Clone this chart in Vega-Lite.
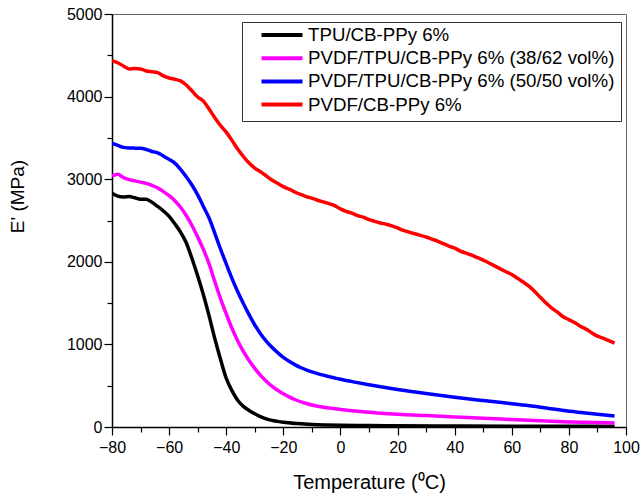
{
  "$schema": "https://vega.github.io/schema/vega-lite/v6.json",
  "autosize": "none",
  "width": 514,
  "height": 413,
  "padding": {"left": 112, "top": 14, "right": 17, "bottom": 72},
  "background": "white",
  "config": {
    "font": "Liberation Sans",
    "view": {"stroke": "#666666", "strokeWidth": 1}
  },
  "data": {
    "values": [
      {"s": "TPU/CB-PPy 6%", "T": -80, "E": 2829}, {"s": "TPU/CB-PPy 6%", "T": -78, "E": 2795}, {"s": "TPU/CB-PPy 6%", "T": -76, "E": 2785}, {"s": "TPU/CB-PPy 6%", "T": -74, "E": 2790}, {"s": "TPU/CB-PPy 6%", "T": -72, "E": 2775}, {"s": "TPU/CB-PPy 6%", "T": -70, "E": 2758}, {"s": "TPU/CB-PPy 6%", "T": -68, "E": 2756}, {"s": "TPU/CB-PPy 6%", "T": -66, "E": 2720}, {"s": "TPU/CB-PPy 6%", "T": -64, "E": 2670}, {"s": "TPU/CB-PPy 6%", "T": -62, "E": 2615}, {"s": "TPU/CB-PPy 6%", "T": -60, "E": 2550}, {"s": "TPU/CB-PPy 6%", "T": -58, "E": 2460}, {"s": "TPU/CB-PPy 6%", "T": -56, "E": 2360}, {"s": "TPU/CB-PPy 6%", "T": -54, "E": 2230}, {"s": "TPU/CB-PPy 6%", "T": -52, "E": 2040}, {"s": "TPU/CB-PPy 6%", "T": -50, "E": 1830}, {"s": "TPU/CB-PPy 6%", "T": -48, "E": 1600}, {"s": "TPU/CB-PPy 6%", "T": -46, "E": 1345}, {"s": "TPU/CB-PPy 6%", "T": -44, "E": 1070}, {"s": "TPU/CB-PPy 6%", "T": -42, "E": 820}, {"s": "TPU/CB-PPy 6%", "T": -40, "E": 590}, {"s": "TPU/CB-PPy 6%", "T": -38, "E": 440}, {"s": "TPU/CB-PPy 6%", "T": -36, "E": 325}, {"s": "TPU/CB-PPy 6%", "T": -34, "E": 250}, {"s": "TPU/CB-PPy 6%", "T": -32, "E": 200}, {"s": "TPU/CB-PPy 6%", "T": -30, "E": 160}, {"s": "TPU/CB-PPy 6%", "T": -28, "E": 125}, {"s": "TPU/CB-PPy 6%", "T": -26, "E": 98}, {"s": "TPU/CB-PPy 6%", "T": -24, "E": 80}, {"s": "TPU/CB-PPy 6%", "T": -22, "E": 68}, {"s": "TPU/CB-PPy 6%", "T": -20, "E": 58}, {"s": "TPU/CB-PPy 6%", "T": -15, "E": 42}, {"s": "TPU/CB-PPy 6%", "T": -10, "E": 31}, {"s": "TPU/CB-PPy 6%", "T": -5, "E": 25}, {"s": "TPU/CB-PPy 6%", "T": 0, "E": 21}, {"s": "TPU/CB-PPy 6%", "T": 10, "E": 17}, {"s": "TPU/CB-PPy 6%", "T": 20, "E": 14}, {"s": "TPU/CB-PPy 6%", "T": 40, "E": 12}, {"s": "TPU/CB-PPy 6%", "T": 60, "E": 10}, {"s": "TPU/CB-PPy 6%", "T": 80, "E": 9}, {"s": "TPU/CB-PPy 6%", "T": 96, "E": 8},

      {"s": "PVDF/TPU/CB-PPy 6% (38/62 vol%)", "T": -80, "E": 3040}, {"s": "PVDF/TPU/CB-PPy 6% (38/62 vol%)", "T": -78, "E": 3060}, {"s": "PVDF/TPU/CB-PPy 6% (38/62 vol%)", "T": -76, "E": 3020}, {"s": "PVDF/TPU/CB-PPy 6% (38/62 vol%)", "T": -74, "E": 2995}, {"s": "PVDF/TPU/CB-PPy 6% (38/62 vol%)", "T": -72, "E": 2980}, {"s": "PVDF/TPU/CB-PPy 6% (38/62 vol%)", "T": -70, "E": 2965}, {"s": "PVDF/TPU/CB-PPy 6% (38/62 vol%)", "T": -68, "E": 2950}, {"s": "PVDF/TPU/CB-PPy 6% (38/62 vol%)", "T": -66, "E": 2925}, {"s": "PVDF/TPU/CB-PPy 6% (38/62 vol%)", "T": -64, "E": 2895}, {"s": "PVDF/TPU/CB-PPy 6% (38/62 vol%)", "T": -62, "E": 2850}, {"s": "PVDF/TPU/CB-PPy 6% (38/62 vol%)", "T": -60, "E": 2800}, {"s": "PVDF/TPU/CB-PPy 6% (38/62 vol%)", "T": -58, "E": 2740}, {"s": "PVDF/TPU/CB-PPy 6% (38/62 vol%)", "T": -56, "E": 2660}, {"s": "PVDF/TPU/CB-PPy 6% (38/62 vol%)", "T": -54, "E": 2560}, {"s": "PVDF/TPU/CB-PPy 6% (38/62 vol%)", "T": -52, "E": 2440}, {"s": "PVDF/TPU/CB-PPy 6% (38/62 vol%)", "T": -50, "E": 2300}, {"s": "PVDF/TPU/CB-PPy 6% (38/62 vol%)", "T": -48, "E": 2150}, {"s": "PVDF/TPU/CB-PPy 6% (38/62 vol%)", "T": -46, "E": 1975}, {"s": "PVDF/TPU/CB-PPy 6% (38/62 vol%)", "T": -44, "E": 1760}, {"s": "PVDF/TPU/CB-PPy 6% (38/62 vol%)", "T": -42, "E": 1555}, {"s": "PVDF/TPU/CB-PPy 6% (38/62 vol%)", "T": -40, "E": 1370}, {"s": "PVDF/TPU/CB-PPy 6% (38/62 vol%)", "T": -38, "E": 1195}, {"s": "PVDF/TPU/CB-PPy 6% (38/62 vol%)", "T": -36, "E": 1045}, {"s": "PVDF/TPU/CB-PPy 6% (38/62 vol%)", "T": -34, "E": 915}, {"s": "PVDF/TPU/CB-PPy 6% (38/62 vol%)", "T": -32, "E": 805}, {"s": "PVDF/TPU/CB-PPy 6% (38/62 vol%)", "T": -30, "E": 710}, {"s": "PVDF/TPU/CB-PPy 6% (38/62 vol%)", "T": -28, "E": 625}, {"s": "PVDF/TPU/CB-PPy 6% (38/62 vol%)", "T": -26, "E": 555}, {"s": "PVDF/TPU/CB-PPy 6% (38/62 vol%)", "T": -24, "E": 495}, {"s": "PVDF/TPU/CB-PPy 6% (38/62 vol%)", "T": -22, "E": 445}, {"s": "PVDF/TPU/CB-PPy 6% (38/62 vol%)", "T": -20, "E": 402}, {"s": "PVDF/TPU/CB-PPy 6% (38/62 vol%)", "T": -18, "E": 365}, {"s": "PVDF/TPU/CB-PPy 6% (38/62 vol%)", "T": -16, "E": 333}, {"s": "PVDF/TPU/CB-PPy 6% (38/62 vol%)", "T": -12, "E": 285}, {"s": "PVDF/TPU/CB-PPy 6% (38/62 vol%)", "T": -8, "E": 252}, {"s": "PVDF/TPU/CB-PPy 6% (38/62 vol%)", "T": -4, "E": 230}, {"s": "PVDF/TPU/CB-PPy 6% (38/62 vol%)", "T": 0, "E": 213}, {"s": "PVDF/TPU/CB-PPy 6% (38/62 vol%)", "T": 5, "E": 195}, {"s": "PVDF/TPU/CB-PPy 6% (38/62 vol%)", "T": 10, "E": 180}, {"s": "PVDF/TPU/CB-PPy 6% (38/62 vol%)", "T": 20, "E": 155}, {"s": "PVDF/TPU/CB-PPy 6% (38/62 vol%)", "T": 30, "E": 138}, {"s": "PVDF/TPU/CB-PPy 6% (38/62 vol%)", "T": 40, "E": 122}, {"s": "PVDF/TPU/CB-PPy 6% (38/62 vol%)", "T": 50, "E": 105}, {"s": "PVDF/TPU/CB-PPy 6% (38/62 vol%)", "T": 60, "E": 90}, {"s": "PVDF/TPU/CB-PPy 6% (38/62 vol%)", "T": 70, "E": 75}, {"s": "PVDF/TPU/CB-PPy 6% (38/62 vol%)", "T": 80, "E": 62}, {"s": "PVDF/TPU/CB-PPy 6% (38/62 vol%)", "T": 90, "E": 53}, {"s": "PVDF/TPU/CB-PPy 6% (38/62 vol%)", "T": 96, "E": 48},

      {"s": "PVDF/TPU/CB-PPy 6% (50/50 vol%)", "T": -80, "E": 3436}, {"s": "PVDF/TPU/CB-PPy 6% (50/50 vol%)", "T": -78, "E": 3410}, {"s": "PVDF/TPU/CB-PPy 6% (50/50 vol%)", "T": -76, "E": 3385}, {"s": "PVDF/TPU/CB-PPy 6% (50/50 vol%)", "T": -74, "E": 3378}, {"s": "PVDF/TPU/CB-PPy 6% (50/50 vol%)", "T": -72, "E": 3376}, {"s": "PVDF/TPU/CB-PPy 6% (50/50 vol%)", "T": -70, "E": 3375}, {"s": "PVDF/TPU/CB-PPy 6% (50/50 vol%)", "T": -68, "E": 3360}, {"s": "PVDF/TPU/CB-PPy 6% (50/50 vol%)", "T": -66, "E": 3335}, {"s": "PVDF/TPU/CB-PPy 6% (50/50 vol%)", "T": -64, "E": 3320}, {"s": "PVDF/TPU/CB-PPy 6% (50/50 vol%)", "T": -62, "E": 3280}, {"s": "PVDF/TPU/CB-PPy 6% (50/50 vol%)", "T": -60, "E": 3240}, {"s": "PVDF/TPU/CB-PPy 6% (50/50 vol%)", "T": -58, "E": 3195}, {"s": "PVDF/TPU/CB-PPy 6% (50/50 vol%)", "T": -56, "E": 3120}, {"s": "PVDF/TPU/CB-PPy 6% (50/50 vol%)", "T": -54, "E": 3030}, {"s": "PVDF/TPU/CB-PPy 6% (50/50 vol%)", "T": -52, "E": 2930}, {"s": "PVDF/TPU/CB-PPy 6% (50/50 vol%)", "T": -50, "E": 2810}, {"s": "PVDF/TPU/CB-PPy 6% (50/50 vol%)", "T": -48, "E": 2670}, {"s": "PVDF/TPU/CB-PPy 6% (50/50 vol%)", "T": -46, "E": 2530}, {"s": "PVDF/TPU/CB-PPy 6% (50/50 vol%)", "T": -44, "E": 2345}, {"s": "PVDF/TPU/CB-PPy 6% (50/50 vol%)", "T": -42, "E": 2155}, {"s": "PVDF/TPU/CB-PPy 6% (50/50 vol%)", "T": -40, "E": 1975}, {"s": "PVDF/TPU/CB-PPy 6% (50/50 vol%)", "T": -38, "E": 1800}, {"s": "PVDF/TPU/CB-PPy 6% (50/50 vol%)", "T": -36, "E": 1640}, {"s": "PVDF/TPU/CB-PPy 6% (50/50 vol%)", "T": -34, "E": 1495}, {"s": "PVDF/TPU/CB-PPy 6% (50/50 vol%)", "T": -32, "E": 1360}, {"s": "PVDF/TPU/CB-PPy 6% (50/50 vol%)", "T": -30, "E": 1235}, {"s": "PVDF/TPU/CB-PPy 6% (50/50 vol%)", "T": -28, "E": 1130}, {"s": "PVDF/TPU/CB-PPy 6% (50/50 vol%)", "T": -26, "E": 1040}, {"s": "PVDF/TPU/CB-PPy 6% (50/50 vol%)", "T": -24, "E": 965}, {"s": "PVDF/TPU/CB-PPy 6% (50/50 vol%)", "T": -22, "E": 900}, {"s": "PVDF/TPU/CB-PPy 6% (50/50 vol%)", "T": -20, "E": 842}, {"s": "PVDF/TPU/CB-PPy 6% (50/50 vol%)", "T": -18, "E": 795}, {"s": "PVDF/TPU/CB-PPy 6% (50/50 vol%)", "T": -16, "E": 755}, {"s": "PVDF/TPU/CB-PPy 6% (50/50 vol%)", "T": -14, "E": 720}, {"s": "PVDF/TPU/CB-PPy 6% (50/50 vol%)", "T": -12, "E": 692}, {"s": "PVDF/TPU/CB-PPy 6% (50/50 vol%)", "T": -10, "E": 668}, {"s": "PVDF/TPU/CB-PPy 6% (50/50 vol%)", "T": -8, "E": 647}, {"s": "PVDF/TPU/CB-PPy 6% (50/50 vol%)", "T": -6, "E": 628}, {"s": "PVDF/TPU/CB-PPy 6% (50/50 vol%)", "T": -4, "E": 610}, {"s": "PVDF/TPU/CB-PPy 6% (50/50 vol%)", "T": -2, "E": 594}, {"s": "PVDF/TPU/CB-PPy 6% (50/50 vol%)", "T": 0, "E": 578}, {"s": "PVDF/TPU/CB-PPy 6% (50/50 vol%)", "T": 5, "E": 543}, {"s": "PVDF/TPU/CB-PPy 6% (50/50 vol%)", "T": 10, "E": 511}, {"s": "PVDF/TPU/CB-PPy 6% (50/50 vol%)", "T": 20, "E": 454}, {"s": "PVDF/TPU/CB-PPy 6% (50/50 vol%)", "T": 30, "E": 405}, {"s": "PVDF/TPU/CB-PPy 6% (50/50 vol%)", "T": 40, "E": 360}, {"s": "PVDF/TPU/CB-PPy 6% (50/50 vol%)", "T": 50, "E": 320}, {"s": "PVDF/TPU/CB-PPy 6% (50/50 vol%)", "T": 60, "E": 282}, {"s": "PVDF/TPU/CB-PPy 6% (50/50 vol%)", "T": 67, "E": 255}, {"s": "PVDF/TPU/CB-PPy 6% (50/50 vol%)", "T": 73, "E": 225}, {"s": "PVDF/TPU/CB-PPy 6% (50/50 vol%)", "T": 79, "E": 196}, {"s": "PVDF/TPU/CB-PPy 6% (50/50 vol%)", "T": 85, "E": 172}, {"s": "PVDF/TPU/CB-PPy 6% (50/50 vol%)", "T": 90, "E": 154}, {"s": "PVDF/TPU/CB-PPy 6% (50/50 vol%)", "T": 96, "E": 134},

      {"s": "PVDF/CB-PPy 6%", "T": -80, "E": 4435}, {"s": "PVDF/CB-PPy 6%", "T": -78, "E": 4410}, {"s": "PVDF/CB-PPy 6%", "T": -76, "E": 4370}, {"s": "PVDF/CB-PPy 6%", "T": -74, "E": 4335}, {"s": "PVDF/CB-PPy 6%", "T": -72, "E": 4340}, {"s": "PVDF/CB-PPy 6%", "T": -70, "E": 4335}, {"s": "PVDF/CB-PPy 6%", "T": -68, "E": 4310}, {"s": "PVDF/CB-PPy 6%", "T": -66, "E": 4300}, {"s": "PVDF/CB-PPy 6%", "T": -64, "E": 4290}, {"s": "PVDF/CB-PPy 6%", "T": -62, "E": 4250}, {"s": "PVDF/CB-PPy 6%", "T": -60, "E": 4225}, {"s": "PVDF/CB-PPy 6%", "T": -58, "E": 4210}, {"s": "PVDF/CB-PPy 6%", "T": -56, "E": 4190}, {"s": "PVDF/CB-PPy 6%", "T": -54, "E": 4140}, {"s": "PVDF/CB-PPy 6%", "T": -52, "E": 4070}, {"s": "PVDF/CB-PPy 6%", "T": -50, "E": 3995}, {"s": "PVDF/CB-PPy 6%", "T": -48, "E": 3945}, {"s": "PVDF/CB-PPy 6%", "T": -46, "E": 3850}, {"s": "PVDF/CB-PPy 6%", "T": -44, "E": 3745}, {"s": "PVDF/CB-PPy 6%", "T": -42, "E": 3650}, {"s": "PVDF/CB-PPy 6%", "T": -40, "E": 3570}, {"s": "PVDF/CB-PPy 6%", "T": -38, "E": 3470}, {"s": "PVDF/CB-PPy 6%", "T": -36, "E": 3365}, {"s": "PVDF/CB-PPy 6%", "T": -34, "E": 3275}, {"s": "PVDF/CB-PPy 6%", "T": -32, "E": 3195}, {"s": "PVDF/CB-PPy 6%", "T": -30, "E": 3135}, {"s": "PVDF/CB-PPy 6%", "T": -28, "E": 3090}, {"s": "PVDF/CB-PPy 6%", "T": -26, "E": 3040}, {"s": "PVDF/CB-PPy 6%", "T": -24, "E": 2990}, {"s": "PVDF/CB-PPy 6%", "T": -22, "E": 2950}, {"s": "PVDF/CB-PPy 6%", "T": -20, "E": 2910}, {"s": "PVDF/CB-PPy 6%", "T": -18, "E": 2880}, {"s": "PVDF/CB-PPy 6%", "T": -16, "E": 2845}, {"s": "PVDF/CB-PPy 6%", "T": -14, "E": 2815}, {"s": "PVDF/CB-PPy 6%", "T": -12, "E": 2790}, {"s": "PVDF/CB-PPy 6%", "T": -10, "E": 2770}, {"s": "PVDF/CB-PPy 6%", "T": -8, "E": 2745}, {"s": "PVDF/CB-PPy 6%", "T": -6, "E": 2725}, {"s": "PVDF/CB-PPy 6%", "T": -4, "E": 2705}, {"s": "PVDF/CB-PPy 6%", "T": -2, "E": 2680}, {"s": "PVDF/CB-PPy 6%", "T": 0, "E": 2640}, {"s": "PVDF/CB-PPy 6%", "T": 2, "E": 2610}, {"s": "PVDF/CB-PPy 6%", "T": 4, "E": 2590}, {"s": "PVDF/CB-PPy 6%", "T": 6, "E": 2560}, {"s": "PVDF/CB-PPy 6%", "T": 8, "E": 2540}, {"s": "PVDF/CB-PPy 6%", "T": 10, "E": 2510}, {"s": "PVDF/CB-PPy 6%", "T": 12, "E": 2490}, {"s": "PVDF/CB-PPy 6%", "T": 14, "E": 2470}, {"s": "PVDF/CB-PPy 6%", "T": 16, "E": 2455}, {"s": "PVDF/CB-PPy 6%", "T": 18, "E": 2435}, {"s": "PVDF/CB-PPy 6%", "T": 20, "E": 2410}, {"s": "PVDF/CB-PPy 6%", "T": 22, "E": 2380}, {"s": "PVDF/CB-PPy 6%", "T": 24, "E": 2360}, {"s": "PVDF/CB-PPy 6%", "T": 26, "E": 2340}, {"s": "PVDF/CB-PPy 6%", "T": 28, "E": 2320}, {"s": "PVDF/CB-PPy 6%", "T": 30, "E": 2300}, {"s": "PVDF/CB-PPy 6%", "T": 32, "E": 2275}, {"s": "PVDF/CB-PPy 6%", "T": 34, "E": 2250}, {"s": "PVDF/CB-PPy 6%", "T": 36, "E": 2220}, {"s": "PVDF/CB-PPy 6%", "T": 38, "E": 2190}, {"s": "PVDF/CB-PPy 6%", "T": 40, "E": 2165}, {"s": "PVDF/CB-PPy 6%", "T": 42, "E": 2130}, {"s": "PVDF/CB-PPy 6%", "T": 44, "E": 2105}, {"s": "PVDF/CB-PPy 6%", "T": 46, "E": 2080}, {"s": "PVDF/CB-PPy 6%", "T": 48, "E": 2050}, {"s": "PVDF/CB-PPy 6%", "T": 50, "E": 2020}, {"s": "PVDF/CB-PPy 6%", "T": 52, "E": 1985}, {"s": "PVDF/CB-PPy 6%", "T": 54, "E": 1950}, {"s": "PVDF/CB-PPy 6%", "T": 56, "E": 1915}, {"s": "PVDF/CB-PPy 6%", "T": 58, "E": 1880}, {"s": "PVDF/CB-PPy 6%", "T": 60, "E": 1845}, {"s": "PVDF/CB-PPy 6%", "T": 62, "E": 1800}, {"s": "PVDF/CB-PPy 6%", "T": 64, "E": 1755}, {"s": "PVDF/CB-PPy 6%", "T": 66, "E": 1705}, {"s": "PVDF/CB-PPy 6%", "T": 68, "E": 1640}, {"s": "PVDF/CB-PPy 6%", "T": 70, "E": 1570}, {"s": "PVDF/CB-PPy 6%", "T": 72, "E": 1500}, {"s": "PVDF/CB-PPy 6%", "T": 74, "E": 1440}, {"s": "PVDF/CB-PPy 6%", "T": 76, "E": 1390}, {"s": "PVDF/CB-PPy 6%", "T": 78, "E": 1335}, {"s": "PVDF/CB-PPy 6%", "T": 80, "E": 1300}, {"s": "PVDF/CB-PPy 6%", "T": 82, "E": 1265}, {"s": "PVDF/CB-PPy 6%", "T": 84, "E": 1220}, {"s": "PVDF/CB-PPy 6%", "T": 86, "E": 1185}, {"s": "PVDF/CB-PPy 6%", "T": 88, "E": 1140}, {"s": "PVDF/CB-PPy 6%", "T": 90, "E": 1100}, {"s": "PVDF/CB-PPy 6%", "T": 92, "E": 1075}, {"s": "PVDF/CB-PPy 6%", "T": 94, "E": 1045}, {"s": "PVDF/CB-PPy 6%", "T": 96, "E": 1015}
    ]
  },
  "mark": {"type": "line", "strokeWidth": 3.5, "interpolate": "monotone", "clip": true},
  "encoding": {
    "x": {
      "field": "T", "type": "quantitative",
      "scale": {"domain": [-80, 100], "nice": false, "zero": false},
      "axis": {
        "title": "Temperature (⁰C)",
        "values": [-80, -70, -60, -50, -40, -30, -20, -10, 0, 10, 20, 30, 40, 50, 60, 70, 80, 90, 100],
        "labelExpr": "datum.value % 20 === 0 ? datum.label : ''",
        "format": "d",
        "grid": false,
        "domainColor": "black", "domainWidth": 1.5,
        "tickColor": "black", "tickWidth": 1.2,
        "tickSize": {"condition": {"test": "datum.value % 20 === 0", "value": 8}, "value": 5},
        "labelFontSize": 16, "labelColor": "black", "labelPadding": 4,
        "labelFlush": false, "labelOverlap": false,
        "titleFontSize": 20, "titleFontWeight": "normal", "titleColor": "black",
        "titleBaseline": "alphabetic", "titleY": 61
      }
    },
    "y": {
      "field": "E", "type": "quantitative",
      "scale": {"domain": [0, 5000], "nice": false},
      "axis": {
        "title": "E' (MPa)",
        "values": [0, 500, 1000, 1500, 2000, 2500, 3000, 3500, 4000, 4500, 5000],
        "labelExpr": "datum.value % 1000 === 0 ? datum.label : ''",
        "format": "d",
        "grid": false,
        "domainColor": "black", "domainWidth": 1.5,
        "tickColor": "black", "tickWidth": 1.2,
        "tickSize": {"condition": {"test": "datum.value % 1000 === 0", "value": 8}, "value": 5},
        "labelFontSize": 16, "labelColor": "black", "labelPadding": 2,
        "labelFlush": false, "labelOverlap": false,
        "titleFontSize": 19, "titleFontWeight": "normal", "titleColor": "black",
        "titleAngle": -90, "titleBaseline": "bottom", "titleX": -85, "titleY": 182, "titleAlign": "center"
      }
    },
    "color": {
      "field": "s", "type": "nominal",
      "scale": {
        "domain": ["TPU/CB-PPy 6%", "PVDF/TPU/CB-PPy 6% (38/62 vol%)", "PVDF/TPU/CB-PPy 6% (50/50 vol%)", "PVDF/CB-PPy 6%"],
        "range": ["#000000", "#FF00FF", "#0000FF", "#FF0000"]
      },
      "legend": {
        "title": null,
        "orient": "none",
        "legendX": 130,
        "legendY": 8,
        "padding": 6,
        "strokeColor": "#333333",
        "fillColor": "white",
        "symbolType": "stroke",
        "symbolSize": 1681,
        "symbolStrokeWidth": 4,
        "symbolOffset": 11.5,
        "labelOffset": 3.5,
        "labelFontSize": 18.7,
        "labelColor": "black",
        "labelLimit": 400,
        "clipHeight": 14,
        "rowPadding": 4.2
      }
    }
  }
}
